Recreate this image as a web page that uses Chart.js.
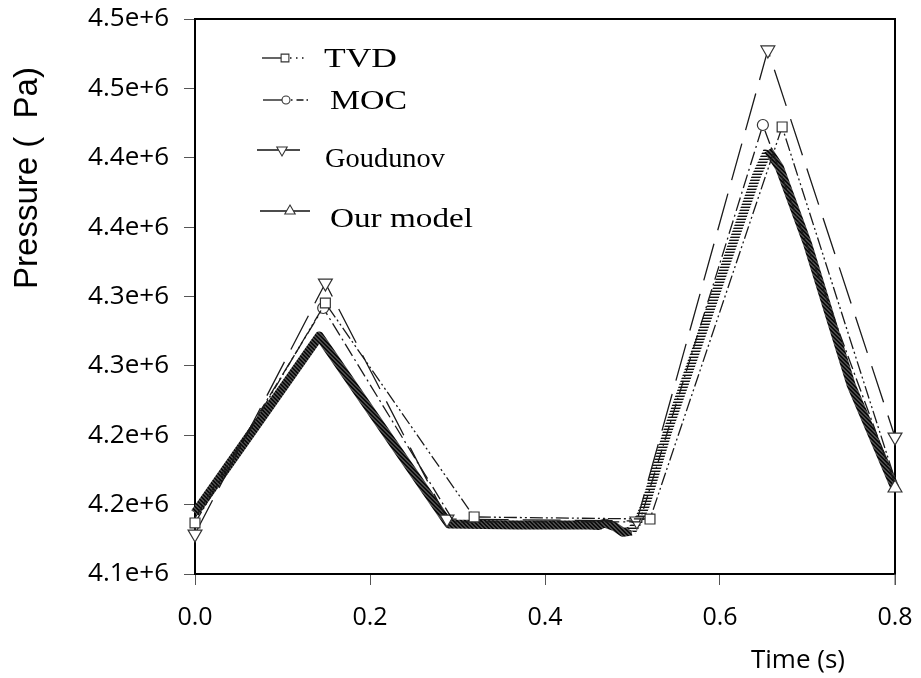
<!DOCTYPE html>
<html>
<head>
<meta charset="utf-8">
<script src="https://cdn.jsdelivr.net/npm/chart.js@4/dist/chart.umd.min.js"></script>
<style>
  html, body { margin: 0; padding: 0; background: #fff; }
  #wrap { width: 921px; height: 678px; }
</style>
</head>
<body>
<div id="wrap"><canvas id="c" width="921" height="678"></canvas></div>
<script>
// Axis ticks
const xTickValues = [0, 0.2, 0.4, 0.6, 0.8];
const xTickLabels = ['0.0', '0.2', '0.4', '0.6', '0.8'];
const yTickValues = [4.10e6, 4.15e6, 4.20e6, 4.25e6, 4.30e6, 4.35e6, 4.40e6, 4.45e6, 4.50e6];
const yTickLabels = ['4.1e+6', '4.2e+6', '4.2e+6', '4.3e+6', '4.3e+6', '4.4e+6', '4.4e+6', '4.5e+6', '4.5e+6'];

const seriesNames = ['TVD', 'MOC', 'Goudunov', 'Our model'];

// Time (s) and pressure (Pa) for each scheme
const tTvd = [0, 0.149, 0.319, 0.520, 0.671, 0.800];
const pTvd = [4.1368e6, 4.2953e6, 4.1411e6, 4.1396e6, 4.4222e6, 4.1680e6];

const tMoc = [0, 0.1465, 0.296, 0.508, 0.649, 0.800];
const pMoc = [4.1404e6, 4.2917e6, 4.1375e6, 4.1375e6, 4.4236e6, 4.1650e6];

const tGod = [0, 0.149, 0.288, 0.505, 0.6547, 0.800];
const pGod = [4.1288e6, 4.3097e6, 4.1396e6, 4.1382e6, 4.4777e6, 4.1987e6];

const tModel = [0, 0.142, 0.290, 0.370, 0.450, 0.462, 0.468, 0.480, 0.489, 0.499, 0.508, 0.515,
                0.540, 0.580, 0.622, 0.642, 0.655, 0.668, 0.700, 0.750, 0.800];
const pModel = [4.1440e6, 4.2715e6, 4.1360e6, 4.1353e6, 4.1353e6, 4.1350e6, 4.1368e6, 4.1340e6,
                4.1300e6, 4.1310e6, 4.1400e6, 4.1500e6, 4.2025e6, 4.2745e6, 4.3515e6, 4.3875e6,
                4.4055e6, 4.3930e6, 4.3380e6, 4.2360e6, 4.1620e6];

const pairUp = (ts, ps) => ts.map((t, i) => ({ x: t, y: ps[i] }));

// Textures for the thick model band
function makePattern(w, h, paint) {
  const c = document.createElement('canvas');
  c.width = w; c.height = h;
  const g = c.getContext('2d');
  paint(g);
  return g.createPattern(c, 'repeat');
}
const ctxMain = document.getElementById('c').getContext('2d');
const darkHatch = makePattern(4, 4, g => {
  g.fillStyle = '#4a4a4a'; g.fillRect(0, 0, 4, 4);
  g.fillStyle = '#0c0c0c';
  for (let i = 0; i < 4; i++) { g.fillRect(i, i, 1, 1); g.fillRect((i + 1) % 4, i, 1, 1); }
});
const stripes = makePattern(2, 3, g => {
  g.fillStyle = '#111'; g.fillRect(0, 0, 2, 1);
  g.fillStyle = '#fafafa'; g.fillRect(0, 1, 2, 1);
  g.fillStyle = '#9a9a9a'; g.fillRect(0, 2, 2, 1);
});

const markerCommon = {
  pointBackgroundColor: '#fff',
  pointBorderColor: '#333',
  pointBorderWidth: 1.2,
  clip: false,
  tension: 0,
  fill: false
};

const datasets = [
  Object.assign({
    label: seriesNames[0], data: pairUp(tTvd, pTvd),
    borderColor: '#1a1a1a', borderWidth: 1.3, borderDash: [13, 3, 2, 3, 2, 3],
    pointStyle: 'rect', pointRadius: [7, 7, 7, 7, 7, 0]
  }, markerCommon),
  Object.assign({
    label: seriesNames[1], data: pairUp(tMoc, pMoc),
    borderColor: '#1a1a1a', borderWidth: 1.3, borderDash: [14, 4, 2, 4],
    pointStyle: 'circle', pointRadius: [0, 5.5, 0, 0, 5.5, 0]
  }, markerCommon),
  Object.assign({
    label: seriesNames[2], data: pairUp(tGod, pGod),
    borderColor: '#1a1a1a', borderWidth: 1.3, borderDash: [38, 14],
    pointStyle: 'triangle', pointRotation: 180, pointRadius: 8
  }, markerCommon),
  Object.assign({
    label: seriesNames[3], data: pairUp(tModel, pModel),
    borderColor: darkHatch, borderWidth: 9, borderJoinStyle: 'round',
    segment: {
      borderColor: c => (c.p0.parsed.x >= 0.499 && c.p1.parsed.x <= 0.656) ? stripes : darkHatch
    },
    pointStyle: 'triangle', pointRadius: c => (c.dataIndex === tModel.length - 1 ? 8 : 0)
  }, markerCommon)
];

// Legend rows: line span, marker centre, text start, baseline and text width
const legendRows = [
  { y: 58,  x0: 262, x1: 308, xm: 285, tx: 324, ty: 67,  w: 73 },
  { y: 100, x0: 263, x1: 312, xm: 286, tx: 330, ty: 109, w: 77 },
  { y: 150, x0: 257, x1: 300, xm: 282, tx: 325, ty: 167, w: 120 },
  { y: 211, x0: 260, x1: 310, xm: 290, tx: 330, ty: 227, w: 143 }
];

function drawMarker(g, style, x, y, r, rot) {
  g.save();
  g.fillStyle = '#fff'; g.strokeStyle = '#333'; g.lineWidth = 1.1; g.setLineDash([]);
  g.beginPath();
  if (style === 'rect') {
    const s = r * Math.SQRT1_2;
    g.rect(x - s, y - s, 2 * s, 2 * s);
  } else if (style === 'circle') {
    g.arc(x, y, r, 0, Math.PI * 2);
  } else {
    const flip = rot === 180 ? -1 : 1;
    g.moveTo(x, y - flip * r);
    g.lineTo(x + r * 0.866, y + flip * r * 0.5);
    g.lineTo(x - r * 0.866, y + flip * r * 0.5);
    g.closePath();
  }
  g.fill(); g.stroke();
  g.restore();
}

const decorations = {
  id: 'decorations',
  beforeDatasetsDraw(chart) {
    const { ctx, chartArea: a } = chart;
    ctx.save();
    ctx.strokeStyle = '#000';
    ctx.lineWidth = 2;
    ctx.beginPath();
    ctx.moveTo(a.left, a.top);
    ctx.lineTo(a.right, a.top);
    ctx.lineTo(a.right, a.bottom);
    ctx.stroke();
    // tick below the right end of the time axis
    ctx.lineWidth = 1;
    ctx.strokeStyle = '#555';
    ctx.beginPath();
    ctx.moveTo(a.right, a.bottom);
    ctx.lineTo(a.right, a.bottom + 11);
    ctx.stroke();
    ctx.restore();
  },
  afterDraw(chart) {
    const { ctx } = chart;
    ctx.save();
    // axis titles
    ctx.fillStyle = '#000';
    ctx.font = '33px "Liberation Sans", Arial, sans-serif';
    ctx.textAlign = 'center';
    ctx.textBaseline = 'alphabetic';
    ctx.translate(37, 178);
    ctx.rotate(-Math.PI / 2);
    ctx.fillText('Pressure (  Pa)', 0, 0);
    ctx.setTransform(1, 0, 0, 1, 0, 0);
    ctx.font = '26px "Open Sans", sans-serif';
    ctx.textBaseline = 'middle';
    ctx.fillText('Time (s)', 798, 661);

    // legend
    chart.data.datasets.forEach((ds, i) => {
      const r = legendRows[i];
      ctx.strokeStyle = '#111';
      ctx.lineWidth = 1.3;
      ctx.setLineDash([]);
      ctx.beginPath();
      if (i < 2) {
        ctx.moveTo(r.x0, r.y); ctx.lineTo(r.xm, r.y); ctx.stroke();
        ctx.setLineDash(i === 0 ? [1.5, 4.5] : [1.5, 4, 7, 3]);
        ctx.beginPath();
        ctx.moveTo(r.xm + 5, r.y); ctx.lineTo(r.x1, r.y); ctx.stroke();
      } else {
        ctx.moveTo(r.x0, r.y); ctx.lineTo(r.x1, r.y); ctx.stroke();
      }
      const rad = ds.pointStyle === 'rect' ? 5.5 : (ds.pointStyle === 'circle' ? 4 : 6);
      drawMarker(ctx, ds.pointStyle, r.xm, r.y, rad, ds.pointRotation || 0);
      ctx.fillStyle = '#000';
      ctx.font = '28px "Liberation Serif", "Times New Roman", serif';
      ctx.textAlign = 'left';
      ctx.textBaseline = 'alphabetic';
      const natural = ctx.measureText(ds.label).width;
      ctx.save();
      ctx.translate(r.tx, r.ty);
      ctx.scale(r.w / natural, 1);
      ctx.fillText(ds.label, 0, 0);
      ctx.restore();
    });
    ctx.restore();
  }
};

new Chart(ctxMain, {
  type: 'line',
  data: { datasets },
  plugins: [decorations],
  options: {
    responsive: false,
    animation: false,
    devicePixelRatio: 1,
    layout: { padding: { left: 0, top: 19, right: 26, bottom: 0 } },
    plugins: { legend: { display: false }, tooltip: { enabled: false } },
    scales: {
      x: {
        type: 'linear', min: 0, max: 0.8,
        afterBuildTicks: s => { s.ticks = xTickValues.map(v => ({ value: v })); },
        afterFit: s => { s.height = 104; s.paddingLeft = 0; s.paddingRight = 0; },
        ticks: {
          autoSkip: false, maxRotation: 0, color: '#000', padding: 18,
          font: { family: '"Open Sans", sans-serif', size: 25 },
          callback: (v, i) => xTickLabels[i]
        },
        grid: { drawOnChartArea: false, drawTicks: true, tickLength: 11, color: '#555', lineWidth: 1 },
        border: { display: true, color: '#000', width: 2 }
      },
      y: {
        type: 'linear', min: 4.10e6, max: 4.50e6,
        afterBuildTicks: s => { s.ticks = yTickValues.map(v => ({ value: v })); },
        afterFit: s => { s.width = 195; s.paddingTop = 0; s.paddingBottom = 0; },
        ticks: {
          autoSkip: false, color: '#000', padding: 15,
          font: { family: '"Open Sans", sans-serif', size: 26 },
          callback: (v, i) => yTickLabels[i]
        },
        grid: { drawOnChartArea: false, drawTicks: true, tickLength: 11, color: '#555', lineWidth: 1 },
        border: { display: true, color: '#000', width: 2 }
      }
    }
  }
});
</script>
</body>
</html>
